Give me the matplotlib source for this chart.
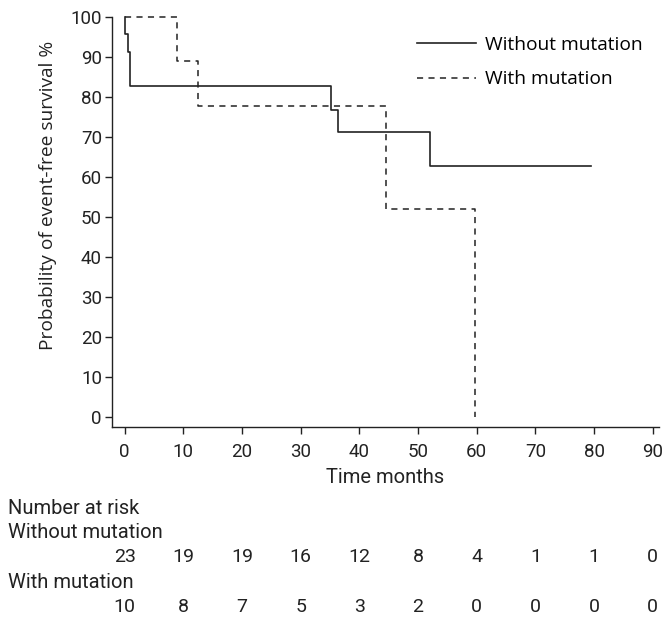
import matplotlib
matplotlib.use('Agg')
import matplotlib.pyplot as plt
from matplotlib.lines import Line2D
from matplotlib.transforms import blended_transform_factory

# Kaplan-Meier steps (months, % event-free)
without_time = [0, 0.1, 0.5, 0.95, 35.1, 36.4, 52.0, 79.5]
without_surv = [100, 95.7, 91.3, 82.6, 76.8, 71.3, 62.8, 62.8]
with_time = [0, 9.0, 12.5, 44.5, 59.7]
with_surv = [100, 88.9, 77.8, 51.9, 0]

# number at risk table
risk_times = [0, 10, 20, 30, 40, 50, 60, 70, 80, 90]
risk_without = [23, 19, 19, 16, 12, 8, 4, 1, 1, 0]
risk_with = [10, 8, 7, 5, 3, 2, 0, 0, 0, 0]

yticks = [0, 10, 20, 30, 40, 50, 60, 70, 80, 90, 100]

W, H = 664, 620
fig = plt.figure(figsize=(W / 100, H / 100), dpi=100)
ax = fig.add_axes([111.7 / W, 1 - 426.7 / H, 547 / W, 410 / H])

line_col = '#222222'
ax.step(without_time, without_surv, where='post', color=line_col, lw=1.2,
        clip_on=False)
ax.step(with_time, with_surv, where='post', color=line_col, lw=1.1,
        linestyle=(0, (4, 3.5)), clip_on=False)

ax.set_xlim(-2.2, 91)
ax.set_ylim(-2.5, 100)
ax.set_xticks(risk_times)
ax.set_yticks(yticks)
for s in ['top', 'right']:
    ax.spines[s].set_visible(False)
for s in ['left', 'bottom']:
    ax.spines[s].set_linewidth(1.0)
    ax.spines[s].set_color('#222222')

num_font = 'Roboto'
txt_font = 'Open Sans'
ax.tick_params(direction='out', length=5, width=1, color='#222222',
               labelsize=13.5, pad=2, labelcolor='#222222')
ax.tick_params(axis='x', pad=7)
for lab in ax.get_xticklabels() + ax.get_yticklabels():
    lab.set_fontfamily(num_font)

ax.set_xlabel('Time months', fontsize=14.5, family=num_font, color='#222222')
ax.xaxis.set_label_coords(0.5, -0.1)
ax.set_ylabel('Probability of event-free survival %', fontsize=13.8,
              family=txt_font, color='#222222')
ax.yaxis.set_label_coords(-0.1, 0.565)

handles = [Line2D([], [], color=line_col, lw=1.2),
           Line2D([], [], color=line_col, lw=1.1, linestyle=(0, (4, 3.5)))]
ax.legend(handles, ['Without mutation', 'With mutation'],
          loc='upper left', bbox_to_anchor=(417 / W, 1 - 36 / H),
          bbox_transform=fig.transFigure, frameon=False,
          prop={'family': txt_font, 'size': 13.8},
          handlelength=3.1, handletextpad=0.47, labelspacing=0.86,
          borderaxespad=0, borderpad=0)

# number at risk
tr = blended_transform_factory(ax.transData, fig.transFigure)
rows_y = [508, 532.5, 557, 582, 607]
fig.text(8 / W, 1 - rows_y[0] / H, 'Number at risk', fontsize=14.5,
         family=num_font, va='center', color='#222222')
fig.text(8 / W, 1 - rows_y[1] / H, 'Without mutation', fontsize=14.5,
         family=num_font, va='center', color='#222222')
fig.text(8 / W, 1 - rows_y[3] / H, 'With mutation', fontsize=14.5,
         family=num_font, va='center', color='#222222')
for t, n in zip(risk_times, risk_without):
    ax.text(t, 1 - rows_y[2] / H, str(n), transform=tr, ha='center',
            va='center', fontsize=14, family=num_font, color='#222222')
for t, n in zip(risk_times, risk_with):
    ax.text(t, 1 - rows_y[4] / H, str(n), transform=tr, ha='center',
            va='center', fontsize=14, family=num_font, color='#222222')

fig.savefig('out.png', dpi=100)
